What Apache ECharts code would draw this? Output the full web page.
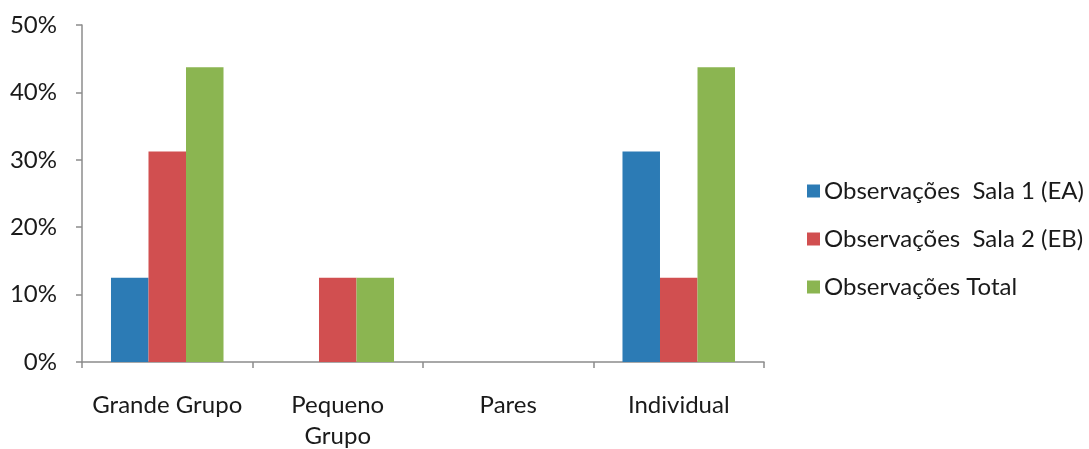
<!DOCTYPE html>
<html>
<head>
<meta charset="utf-8">
<script src="https://cdn.jsdelivr.net/npm/echarts@6/dist/echarts.min.js"></script>
<style>
  html, body { margin: 0; padding: 0; background: #fff; }
  #chart { width: 1089px; height: 449px; }
</style>
</head>
<body>
<div id="chart"></div>
<script>
// Grupos de trabalho observados
const categories = ['Grande Grupo', 'Pequeno\nGrupo', 'Pares', 'Individual'];
const seriesNames = ['Observações  Sala 1 (EA)', 'Observações  Sala 2 (EB)', 'Observações Total'];
const sala1 = [12.5, 0, 0, 31.25];
const sala2 = [31.25, 12.5, 0, 12.5];
const total = [43.75, 12.5, 0, 43.75];
const yTicks = [0, 10, 20, 30, 40, 50];

const colors = ['#2C7BB5', '#D14F50', '#8BB551'];
const font = 'Lato, "Open Sans", sans-serif';
const axisGrey = '#8C8C8C';
const textColor = '#1a1a1a';

const chart = echarts.init(document.getElementById('chart'));
chart.setOption({
  animation: false,
  color: colors,
  grid: { left: 82, right: 325, top: 25, bottom: 87, containLabel: false, outerBoundsMode: 'none' },
  legend: {
    orient: 'vertical',
    left: 802,
    top: 174,
    itemWidth: 13,
    itemHeight: 13,
    itemGap: 24,
    icon: 'rect',
    textStyle: { fontFamily: font, fontSize: 24, lineHeight: 24, color: textColor, padding: [0, 0, 0, -1] },
    data: seriesNames
  },
  xAxis: {
    type: 'category',
    data: categories,
    boundaryGap: true,
    axisLine: { lineStyle: { color: axisGrey, width: 1.5 } },
    axisTick: { show: true, length: 6, alignWithLabel: false, lineStyle: { color: axisGrey, width: 1.5 } },
    axisLabel: { fontFamily: font, fontSize: 24, color: textColor, margin: 28, lineHeight: 31, interval: 0 }
  },
  yAxis: {
    type: 'value',
    min: yTicks[0],
    max: yTicks[yTicks.length - 1],
    interval: 10,
    splitLine: { show: false },
    axisLine: { show: true, lineStyle: { color: axisGrey, width: 1.5 } },
    axisTick: { show: true, length: 6, lineStyle: { color: axisGrey, width: 1.5 } },
    axisLabel: { fontFamily: font, fontSize: 24, color: textColor, margin: 25, formatter: v => v + '%' }
  },
  series: [
    { name: seriesNames[0], type: 'bar', data: sala1, barGap: '0%', barCategoryGap: '34%' },
    { name: seriesNames[1], type: 'bar', data: sala2, barGap: '0%', barCategoryGap: '34%' },
    { name: seriesNames[2], type: 'bar', data: total, barGap: '0%', barCategoryGap: '34%' }
  ]
});
</script>
</body>
</html>
